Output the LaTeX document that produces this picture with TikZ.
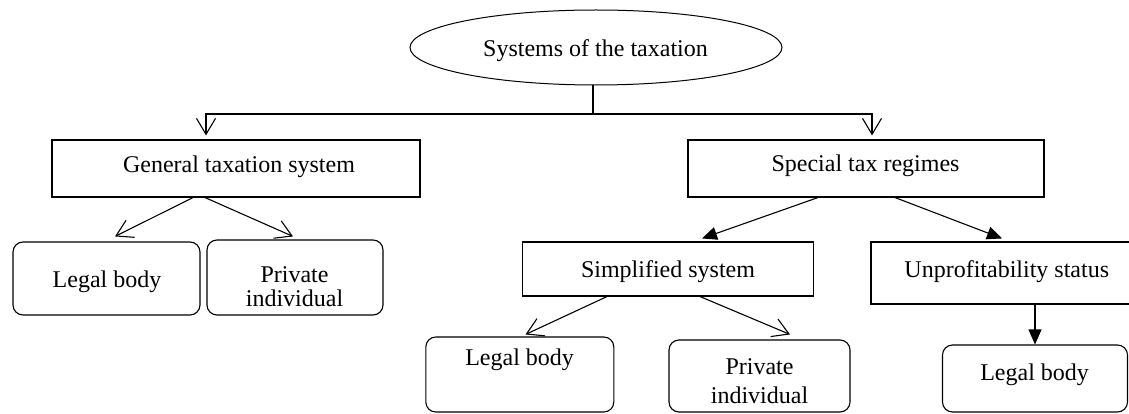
\documentclass[tikz,border=0pt]{standalone}
\usepackage{fontspec}
\setmainfont{Liberation Serif}
\usetikzlibrary{shapes.geometric,arrows.meta}
\begin{document}
\begin{tikzpicture}[x=1pt,y=-1pt,
  sqbox/.style={draw, line width=1.1pt, inner sep=0pt},
  rbox/.style={sqbox, rounded corners=10pt},
  txt/.style={inner sep=0pt, anchor=base, font=\fontsize{24}{27}\selectfont},
  twoline/.style={inner sep=0pt, anchor=center, align=center},
  openarr/.style={line width=1.1pt, -{Straight Barb[length=16pt,width=19pt,line width=1.1pt]}},
  fillarr/.style={line width=1.1pt, -{Triangle[length=15pt,width=13pt]}}]
\useasboundingbox (0,0) rectangle (1129,414);
% shapes
\node[ellipse, draw, line width=1pt, minimum width=372pt, minimum height=75pt, inner sep=0pt] (root) at (596,47.5) {};
\node[txt] (rootT) at (595.5,57) {Systems of the taxation};
\node[sqbox, minimum width=368pt, minimum height=57pt] (gts) at (236,168.5) {};
\node[txt] (gtsT) at (239,173) {General taxation system};
\node[sqbox, minimum width=356pt, minimum height=57pt] (str) at (866,168.5) {};
\node[txt] (strT) at (865.5,172) {Special tax regimes};
\node[rbox, minimum width=187pt, minimum height=73pt] (lb1) at (106.5,278.5) {};
\node[txt] (lb1T) at (107,287) {Legal body};
\node[rbox, minimum width=176pt, minimum height=75pt] (pi1) at (295,277.5) {};
\node[twoline, font=\fontsize{24}{24}\selectfont] (pi1T) at (294.5,286.8) {Private\\individual};
\node[sqbox, minimum width=291.5pt, minimum height=54pt] (simp) at (668,269) {};
\node[txt] (simpT) at (668,277) {Simplified system};
\node[sqbox, minimum width=269pt, minimum height=62pt] (ups) at (1005.5,273) {};
\node[txt] (upsT) at (1006.75,277) {Unprofitability status};
\node[rbox, minimum width=188pt, minimum height=75pt] (lb2) at (519.8,374.5) {};
\node[txt] (lb2T) at (519.6,365) {Legal body};
\node[rbox, minimum width=181pt, minimum height=72pt] (pi2) at (759.5,376) {};
\node[twoline, font=\fontsize{24}{29}\selectfont] (pi2T) at (759.5,381.3) {Private\\individual};
\node[rbox, minimum width=185pt, minimum height=67pt] (lb3) at (1035,378.5) {};
\node[txt] (lb3T) at (1034.6,380) {Legal body};
% connectors
\coordinate (j) at (593,114);
\draw[line width=1.1pt] (root.south -| j) -- (j);
\draw[openarr] (j) -| ([xshift=-30pt,yshift=4pt]gts.north);
\draw[openarr] (j) -| ([xshift=6pt,yshift=4pt]str.north);
\draw[openarr] ([xshift=-43pt]gts.south) -- ([xshift=8.5pt,yshift=5pt]lb1.north);
\draw[openarr] ([xshift=-31pt]gts.south) -- ([xshift=-2pt,yshift=3pt]pi1.north);
\draw[fillarr] ([xshift=-48pt]str.south) -- ([xshift=34pt,yshift=3pt]simp.north);
\draw[fillarr] ([xshift=29pt]str.south) -- ([xshift=-3.5pt,yshift=3pt]ups.north);
\draw[openarr] ([xshift=-61pt]simp.south) -- ([xshift=5.7pt,yshift=2pt]lb2.north);
\draw[openarr] ([xshift=32pt]simp.south) -- ([xshift=30.5pt,yshift=5pt]pi2.north);
\draw[fillarr] (ups.south -| lb3.north) -- (lb3.north);
\end{tikzpicture}
\end{document}
